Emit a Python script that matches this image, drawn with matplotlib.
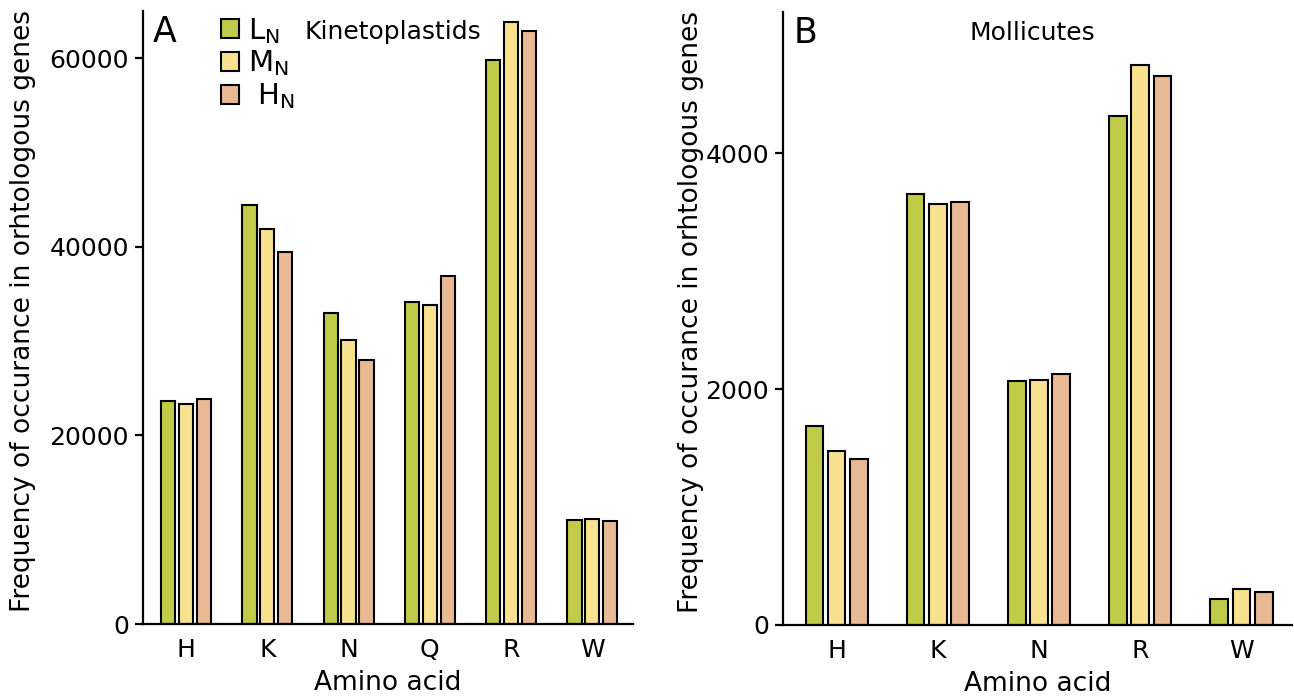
import numpy as np
import matplotlib.pyplot as plt
from matplotlib.patches import Patch

# --- data ---
kin_acids = ["H", "K", "N", "Q", "R", "W"]
kin_L = [23600, 44400, 33000, 34100, 59800, 11050]
kin_M = [23300, 41850, 30100, 33800, 63800, 11150]
kin_H = [23900, 39400, 27950, 36850, 62900, 10950]

mol_acids = ["H", "K", "N", "R", "W"]
mol_L = [1685, 3660, 2070, 4320, 220]
mol_M = [1480, 3570, 2080, 4750, 305]
mol_H = [1405, 3585, 2125, 4660, 280]

series_names = [r"L$_\mathregular{N}$", r"M$_\mathregular{N}$", r" H$_\mathregular{N}$"]
colors = ["#c1cb49", "#f9e28f", "#e9b994"]

plt.rcParams["font.family"] = "DejaVu Sans"

fig = plt.figure(figsize=(12.94, 6.97), dpi=100)
ax1 = fig.add_axes([143 / 1294, 73 / 697, 490 / 1294, 613 / 697])
ax2 = fig.add_axes([783 / 1294, 72 / 697, 509 / 1294, 613 / 697])

pitch = 0.22
width = 0.175


def draw(ax, acids, series, ymax, yticks):
    x = np.arange(len(acids))
    for j, vals in enumerate(series):
        ax.bar(x + (j - 1) * pitch, vals, width, color=colors[j],
               edgecolor="black", linewidth=1.5, zorder=2)
    ax.set_xlim(-0.53, len(acids) - 0.5)
    ax.set_ylim(0, ymax)
    ax.set_xticks(x)
    ax.set_xticklabels(acids)
    ax.set_yticks(yticks)
    ax.spines["top"].set_visible(False)
    ax.spines["right"].set_visible(False)
    ax.spines["left"].set_linewidth(1.6)
    ax.spines["bottom"].set_linewidth(1.6)
    ax.tick_params(axis="x", length=0, labelsize=18, pad=10)
    ax.tick_params(axis="y", length=6, width=1.6, labelsize=18, pad=4)
    ax.set_xlabel("Amino acid", fontsize=19, labelpad=6)
    ax.set_ylabel("Frequency of occurance in orhtologous genes", fontsize=19)


draw(ax1, kin_acids, [kin_L, kin_M, kin_H], 65000, [0, 20000, 40000, 60000])
draw(ax2, mol_acids, [mol_L, mol_M, mol_H], 5200, [0, 2000, 4000])

ax1.yaxis.set_label_coords(-0.218, 0.51)
ax2.yaxis.set_label_coords(-0.155, 0.51)

ax1.text(0.02, 0.965, "A", transform=ax1.transAxes, fontsize=25, va="center")
ax2.text(0.02, 0.965, "B", transform=ax2.transAxes, fontsize=25, va="center")
ax1.text(0.33, 0.966, "Kinetoplastids", transform=ax1.transAxes, fontsize=18, va="center")
ax2.text(0.49, 0.966, "Mollicutes", transform=ax2.transAxes, fontsize=18,
         va="center", ha="center")

handles = [Patch(facecolor=c, edgecolor="black", linewidth=1.5) for c in colors]
ax1.legend(handles, series_names, loc="upper left", bbox_to_anchor=(0.135, 1.011),
           frameon=False, fontsize=21, handlelength=0.62, handleheight=0.62,
           handletextpad=0.3, labelspacing=0.1, borderaxespad=0)

fig.savefig("out.png", dpi=100)
